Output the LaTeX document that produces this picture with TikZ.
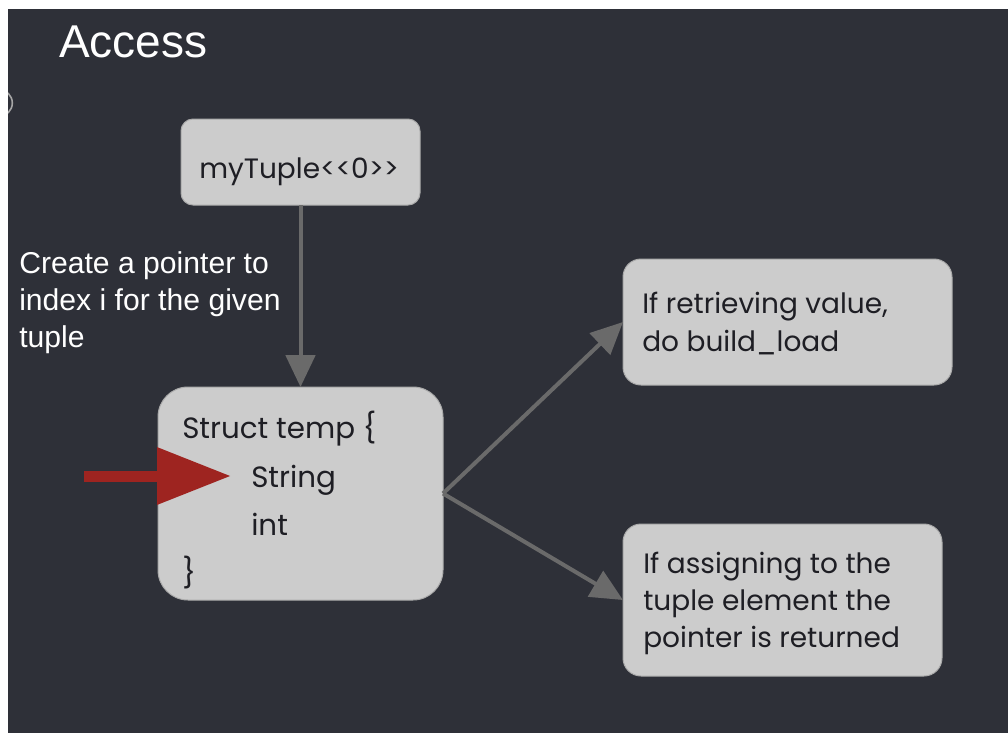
\documentclass[tikz,border=0pt]{standalone}
\usepackage{fontspec}
\setmainfont{Liberation Sans}
\newfontfamily\boxfont{Poppins}
\usetikzlibrary{arrows.meta,calc}
\definecolor{bgdark}{RGB}{46,48,56}
\definecolor{boxfill}{RGB}{204,204,204}
\definecolor{boxline}{RGB}{170,170,170}
\definecolor{boxtext}{RGB}{30,30,36}
\definecolor{linkgray}{RGB}{106,106,106}
\definecolor{pointred}{RGB}{158,36,32}
\tikzset{
  box/.style={draw=boxline, line width=0.75pt, fill=boxfill, inner sep=0pt, outer sep=0pt},
  boxtxt/.style={font=\boxfont\fontsize{21}{25}\selectfont, text=boxtext, inner sep=0pt, anchor=base west},
  structtxt/.style={boxtxt, font=\boxfont\fontsize{22}{26}\selectfont},
  link/.style={draw=linkgray, line width=3pt, -{Triangle[length=24pt,width=22pt]}},
  pointer/.style={draw=pointred, line width=8.25pt, -{Triangle[length=55.5pt,width=41pt]}},
}
\begin{document}
\begin{tikzpicture}[x=0.75pt,y=-0.75pt]
\useasboundingbox (0,0) rectangle (1008,733);
\fill[white] (0,0) rectangle (1008,733);
\fill[bgdark] (8,9) rectangle (1008,733);
\begin{scope}
  \clip (8,9) rectangle (1008,733);
  \draw[gray!70, line width=1.2pt] (-1,103) circle (10pt);
\end{scope}

% title and side note (the note is anchored on its last line)
\node[anchor=base west, inner sep=0pt, text=white, font=\fontsize{34.5}{40}\selectfont] (title) at (59,57) {Access};
\node[anchor=base west, inner sep=0pt, text=white, align=left,
      font=\fontsize{22.6}{27.75}\selectfont] (note) at (19,347)
      {Create a pointer to\\index i for the given\\tuple};

% boxes
\node[box, rounded corners=9pt, minimum width=179.25pt, minimum height=64.5pt] (m) at (300.5,162) {};
\node[box, rounded corners=22.5pt, minimum width=213.75pt, minimum height=159.75pt] (s) at (300.5,493.5) {};
\node[box, rounded corners=13.5pt, minimum width=246.75pt, minimum height=94.5pt] (r) at (787.5,322) {};
\node[box, rounded corners=13.5pt, minimum width=239.25pt, minimum height=114pt] (a) at (782.5,600) {};

% box texts
\node[boxtxt] (mt) at (199,178) {myTuple<<0>>};
\node[structtxt] (s1) at (182,438) {Struct temp \{};
\node[structtxt] (s2) at (251,487) {String};
\node[structtxt] (s3) at (251,535) {int};
\node[structtxt] (s4) at (182,583) {\}};
\node[boxtxt] (r1) at (642,313) {If retrieving value,};
\node[boxtxt] (r2) at (642,351) {do build\_load};
\node[boxtxt] (a1) at (643,573) {If assigning to the};
\node[boxtxt] (a2) at (643,610) {tuple element the};
\node[boxtxt] (a3) at (643,647) {pointer is returned};

% connectors
\draw[link] (m.south) -- (s.north);
\draw[link] (s.east) -- (r.west);
\draw[link] (s.east) -- (a.west);

% red pointer into the struct
\coordinate (redtail) at (84,476);
\coordinate (redtip) at (231,476);
\draw[pointer] (redtail) -- (redtip);
\end{tikzpicture}
\end{document}
